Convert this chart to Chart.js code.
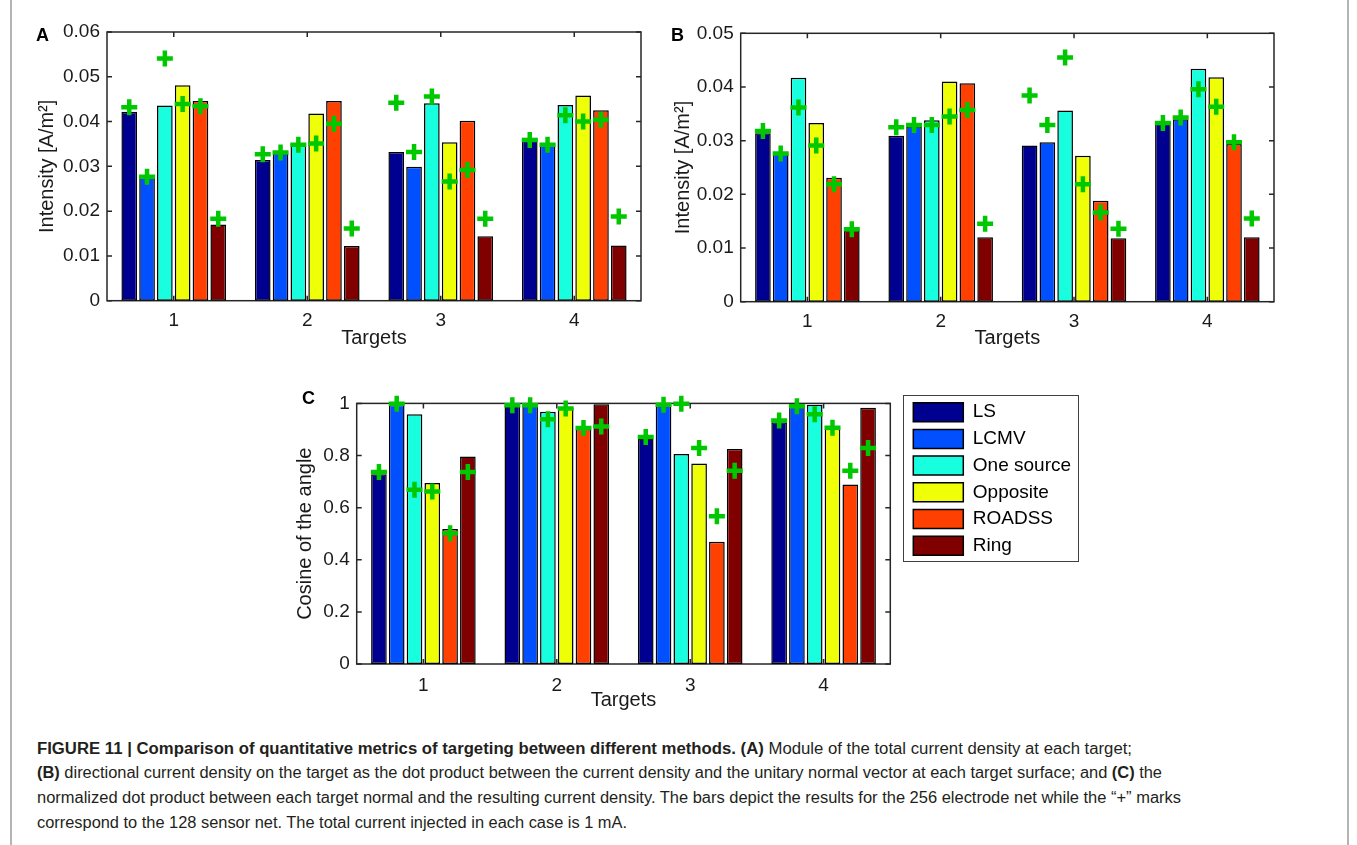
<!DOCTYPE html>
<html>
<head>
<meta charset="utf-8">
<script src="https://cdn.jsdelivr.net/npm/chart.js@4.4.1/dist/chart.umd.min.js"></script>
<style>
  body { margin: 0; background: #fff; width: 1357px; height: 845px; overflow: hidden; position: relative;
         font-family: "Liberation Sans", Arial, Helvetica, sans-serif; }
  canvas { position: absolute; }
  .frame { position: absolute; left: 10px; top: -4px; width: 1335px; height: 860px;
           border-left: 2px solid #b4b4b4; border-right: 2px solid #b4b4b4; }
  .panel { position: absolute; font-weight: bold; font-size: 18px; line-height: 18px; color: #000; }
  .cap { position: absolute; left: 37px; font-size: 16px; line-height: 20px; white-space: nowrap;
         color: #231f20; transform-origin: 0 50%; }
</style>
</head>
<body>
<div class="frame"></div>

<canvas id="chartA" width="640" height="350" style="left:20px;top:10px"></canvas>
<canvas id="chartB" width="640" height="350" style="left:660px;top:10px"></canvas>
<canvas id="chartC" width="806" height="330" style="left:285px;top:385px"></canvas>

<div class="panel" style="left:36px;top:26px">A</div>
<div class="panel" style="left:671px;top:26px">B</div>
<div class="panel" style="left:302px;top:389px">C</div>

<div class="cap" style="top:739px"><b>FIGURE 11 | Comparison of quantitative metrics of targeting between different methods. (A)</b> Module of the total current density at each target;</div>
<div class="cap" style="top:763px"><b>(B)</b> directional current density on the target as the dot product between the current density and the unitary normal vector at each target surface; and <b>(C)</b> the</div>
<div class="cap" style="top:788px">normalized dot product between each target normal and the resulting current density. The bars depict the results for the 256 electrode net while the “+” marks</div>
<div class="cap" style="top:813px">correspond to the 128 sensor net. The total current injected in each case is 1 mA.</div>

<script>
// categories and series
var targets = ['1', '2', '3', '4'];
var methods = ['LS', 'LCMV', 'One source', 'Opposite', 'ROADSS', 'Ring'];

// rows follow methods, columns follow targets
// (A) module of the total current density, bars = 256 electrodes, marks = 128 sensors
var moduleBars256 = [
    [0.0422, 0.0314, 0.0332, 0.0364],
    [0.0279, 0.0329, 0.0299, 0.0352],
    [0.0436, 0.0351, 0.0441, 0.0437],
    [0.0481, 0.0418, 0.0354, 0.0458],
    [0.0446, 0.0446, 0.0402, 0.0425],
    [0.0170, 0.0122, 0.0144, 0.0123]
];
var moduleMarks128 = [
    [0.0432, 0.0327, 0.0442, 0.0359],
    [0.0277, 0.0331, 0.0332, 0.0348],
    [0.0541, 0.0348, 0.0456, 0.0414],
    [0.0439, 0.0351, 0.0266, 0.0400],
    [0.0434, 0.0395, 0.0292, 0.0404],
    [0.0183, 0.0161, 0.0183, 0.0188]
];

// (B) directional current density
var directionalBars256 = [
    [0.0314, 0.0309, 0.0291, 0.0335],
    [0.0276, 0.0327, 0.0297, 0.0340],
    [0.0417, 0.0338, 0.0356, 0.0434],
    [0.0333, 0.0410, 0.0272, 0.0418],
    [0.0231, 0.0407, 0.0188, 0.0294],
    [0.0133, 0.0120, 0.0118, 0.0120]
];
var directionalMarks128 = [
    [0.0318, 0.0325, 0.0384, 0.0333],
    [0.0276, 0.0329, 0.0329, 0.0343],
    [0.0362, 0.0329, 0.0455, 0.0396],
    [0.0291, 0.0345, 0.0219, 0.0363],
    [0.0219, 0.0357, 0.0166, 0.0297],
    [0.0135, 0.0145, 0.0136, 0.0155]
];

// (C) cosine of the angle
var cosineBars256 = [
    [0.728, 0.993, 0.865, 0.928],
    [0.995, 0.993, 0.995, 0.989],
    [0.958, 0.968, 0.806, 0.995],
    [0.695, 0.983, 0.769, 0.903],
    [0.518, 0.902, 0.469, 0.689],
    [0.796, 0.997, 0.825, 0.983]
];
var cosineMarks128 = [
    [0.737, 0.993, 0.871, 0.934],
    [0.999, 0.993, 0.995, 0.989],
    [0.669, 0.939, 0.999, 0.958],
    [0.662, 0.980, 0.829, 0.907],
    [0.502, 0.906, 0.567, 0.742],
    [0.737, 0.911, 0.742, 0.829]
];

var methodColors = ['#000090', '#0050ff', '#18ffe0', '#eeff08', '#ff4000', '#800000'];
var markColor = '#00c800';

Chart.defaults.font.family = '"Liberation Sans", Arial, Helvetica, sans-serif';
Chart.defaults.color = '#1a1a1a';

// put each "+" on top of its own bar instead of the category centre
var alignMarks = {
    id: 'alignMarks',
    afterDatasetsUpdate: function (chart) {
        chart.data.datasets.forEach(function (ds, i) {
            if (ds.barIndex === undefined) return;
            var pts = chart.getDatasetMeta(i).data;
            var bars = chart.getDatasetMeta(ds.barIndex).data;
            pts.forEach(function (p, k) { p.x = bars[k].x; });
        });
    }
};

// matlab style box with inward ticks
var matlabBox = {
    id: 'matlabBox',
    beforeDatasetsDraw: function (chart) {
        var a = chart.chartArea, ctx = chart.ctx;
        var xs = chart.scales.x, ys = chart.scales.y, t = 5;
        ctx.save();
        ctx.strokeStyle = '#262626';
        ctx.lineWidth = 1.5;
        ctx.strokeRect(a.left, a.top, a.right - a.left, a.bottom - a.top);
        ctx.beginPath();
        ys.ticks.forEach(function (tk) {
            var py = ys.getPixelForValue(tk.value);
            ctx.moveTo(a.left, py); ctx.lineTo(a.left + t, py);
            ctx.moveTo(a.right, py); ctx.lineTo(a.right - t, py);
        });
        xs.ticks.forEach(function (tk, i) {
            var px = xs.getPixelForTick(i);
            ctx.moveTo(px, a.top); ctx.lineTo(px, a.top + t);
            ctx.moveTo(px, a.bottom); ctx.lineTo(px, a.bottom - t);
        });
        ctx.stroke();
        ctx.restore();
    }
};

// frame around the legend of panel C
var legendFrame = {
    id: 'legendFrame',
    afterDraw: function (chart) {
        var lg = chart.legend;
        if (!lg || !lg.options.display) return;
        var o = lg.options.labels, ctx = chart.ctx;
        ctx.save();
        ctx.font = '19px "Liberation Sans", Arial, sans-serif';
        var w = 0;
        methods.forEach(function (m) { w = Math.max(w, ctx.measureText(m).width); });
        var x0 = lg.left + o.padding - 10;
        var y0 = lg.top + o.padding - 7.5;
        var x1 = lg.left + o.padding + o.boxWidth + 9.5 + w + 7;
        var y1 = lg.top + o.padding + methods.length * (o.boxHeight + o.padding) - o.padding + 6;
        ctx.strokeStyle = '#404040';
        ctx.lineWidth = 1;
        ctx.strokeRect(Math.round(x0) + 0.5, Math.round(y0) + 0.5, Math.round(x1 - x0), Math.round(y1 - y0));
        ctx.restore();
    }
};

function buildDatasets(bars, marks) {
    var ds = [];
    for (var m = 0; m < methods.length; m++) {
        ds.push({
            type: 'bar', label: methods[m], data: bars[m],
            backgroundColor: methodColors[m], borderColor: '#000', borderWidth: 1.5,
            borderSkipped: false, barPercentage: 0.88, categoryPercentage: 0.8, order: 1
        });
    }
    for (var k = 0; k < methods.length; k++) {
        ds.push({
            type: 'line', label: methods[k] + ' (128)', data: marks[k], barIndex: k,
            showLine: false, pointStyle: 'cross', pointRadius: 8, pointHoverRadius: 8,
            pointBorderWidth: 4.5, pointBorderColor: markColor, pointBackgroundColor: markColor,
            clip: false, order: 0
        });
    }
    return ds;
}

function tickText(v) {
    return String(Math.round(v * 10000) / 10000);
}

function makeChart(id, p) {
    var scales = {
        x: {
            type: 'category', offset: true,
            grid: { display: false, drawTicks: false }, border: { display: false },
            ticks: { font: { size: 19 }, padding: p.xTickPad, maxRotation: 0 },
            title: { display: true, text: 'Targets', font: { size: 20 }, padding: { top: 0, bottom: 0 } },
            afterFit: function (s) { s.height = p.xHeight; }
        },
        y: {
            min: 0, max: p.yMax,
            grid: { display: false, drawTicks: false }, border: { display: false },
            ticks: { stepSize: p.yStep, font: { size: 19 }, padding: 7, callback: tickText },
            title: { display: true, text: p.yTitle, font: { size: 20 }, padding: { top: p.yTitlePad, bottom: 0 } },
            afterFit: function (s) { s.width = p.yWidth; }
        }
    };
    if (p.legend) {
        // empty axis only used as a gap between the plot and the legend
        scales.gap = {
            type: 'linear', position: 'right', display: true,
            grid: { display: false, drawTicks: false }, border: { display: false },
            ticks: { display: false },
            afterFit: function (s) { s.width = 15.3; }
        };
    }
    return new Chart(document.getElementById(id), {
        type: 'bar',
        data: { labels: targets, datasets: buildDatasets(p.bars, p.marks) },
        options: {
            responsive: false,
            animation: false,
            events: [],
            layout: { padding: p.padding },
            scales: scales,
            plugins: {
                tooltip: { enabled: false },
                legend: {
                    display: !!p.legend, position: 'right', align: 'start', maxWidth: 172,
                    labels: {
                        boxWidth: 50, boxHeight: 19, padding: 7.7, color: '#000', font: { size: 19 },
                        filter: function (item) { return item.datasetIndex < methods.length; }
                    }
                }
            }
        },
        plugins: [alignMarks, matlabBox, legendFrame]
    });
}

makeChart('chartA', {
    bars: moduleBars256, marks: moduleMarks128,
    yMax: 0.06, yStep: 0.01, yTitle: 'Intensity [A/m²]',
    yWidth: 87, yTitlePad: 15, xHeight: 49.3, xTickPad: 8.4,
    padding: { left: 0, top: 22, right: 19, bottom: 10 }
});

makeChart('chartB', {
    bars: directionalBars256, marks: directionalMarks128,
    yMax: 0.05, yStep: 0.01, yTitle: 'Intensity [A/m²]',
    yWidth: 80.7, yTitlePad: 11, xHeight: 48.3, xTickPad: 8.4,
    padding: { left: 0, top: 23.3, right: 26, bottom: 10 }
});

makeChart('chartC', {
    bars: cosineBars256, marks: cosineMarks128,
    yMax: 1, yStep: 0.2, yTitle: 'Cosine of the angle',
    yWidth: 71.7, yTitlePad: 8, xHeight: 48, xTickPad: 10,
    padding: { left: 0, top: 10, right: 13.4, bottom: 3 },
    legend: true
});

// caption lines are narrow in the original, squeeze each one to its width
var captionWidths = [1095, 1125, 1144, 590];
document.querySelectorAll('.cap').forEach(function (el, i) {
    var w = el.getBoundingClientRect().width;
    el.style.transform = 'scaleX(' + (captionWidths[i] / w) + ')';
});
</script>
</body>
</html>
